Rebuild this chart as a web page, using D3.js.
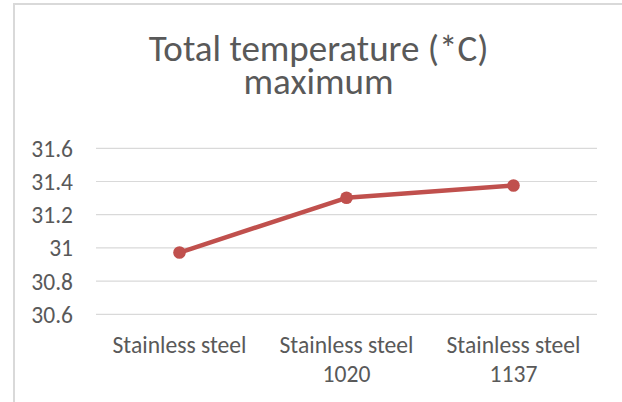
<!DOCTYPE html>
<html>
<head>
<meta charset="utf-8">
<script src="https://cdn.jsdelivr.net/npm/d3@7"></script>
<style>
  body { margin: 0; background: #fff; }
  text { font-family: Carlito, Calibri, "Open Sans", sans-serif; fill: #595959; }
</style>
</head>
<body>
<svg id="chart" width="622" height="402"></svg>
<script>
// data
const categories = [["Stainless steel"], ["Stainless steel", "1020"], ["Stainless steel", "1137"]];
const values = [30.972, 31.302, 31.376];
const yTicks = [30.6, 30.8, 31, 31.2, 31.4, 31.6];
const titleLines = ["Total temperature (*C)", "maximum"];

let width = 622, height = 402;
let margin = { top: 148.3, right: 25, bottom: 87.7, left: 96 };

let svg = d3.select('#chart');

// chart frame (only top and left edges show)
svg.append('path')
  .attr('d', `M14,${height} L14,4 L${width},4`)
  .attr('fill', 'none')
  .attr('stroke', '#d9d9d9')
  .attr('stroke-width', 2);

let x = d3.scaleBand()
  .domain(d3.range(categories.length))
  .range([margin.left, width - margin.right]);

let y = d3.scaleLinear()
  .domain([30.6, 31.6])
  .range([height - margin.bottom, margin.top]);

// gridlines
svg.append('g')
  .selectAll('line')
  .data(yTicks)
  .enter()
  .append('line')
  .attr('x1', margin.left)
  .attr('x2', width - margin.right)
  .attr('y1', d => y(d))
  .attr('y2', d => y(d))
  .attr('stroke', '#d9d9d9')
  .attr('stroke-width', 1.2);

// y tick labels
let yAxis = d3.axisLeft(y).tickValues(yTicks).tickSize(0).tickPadding(0).tickFormat(d3.format(''));
svg.append('g')
  .attr('transform', 'translate(73,0)')
  .call(yAxis)
  .attr('font-family', null)
  .attr('font-size', 23.5)
  .call(g => g.select('.domain').remove())
  .selectAll('text')
  .attr('dy', '0.34em');

// x labels
let xl = svg.append('g')
  .selectAll('text')
  .data(categories)
  .enter()
  .append('text')
  .attr('text-anchor', 'middle')
  .attr('font-size', 23.6)
  .attr('y', 353.3);
xl.selectAll('tspan')
  .data((d, i) => d.map(t => ({ t: t, i: i })))
  .enter()
  .append('tspan')
  .attr('x', d => x(d.i) + x.bandwidth() / 2)
  .attr('dy', (d, j) => j === 0 ? 0 : 28.4)
  .text(d => d.t);

// line + markers
let line = d3.line()
  .x((d, i) => x(i) + x.bandwidth() / 2)
  .y(d => y(d));

svg.append('path')
  .datum(values)
  .attr('d', line)
  .attr('fill', 'none')
  .attr('stroke', '#c0504d')
  .attr('stroke-width', 4.5)
  .attr('stroke-linejoin', 'round');

svg.append('g')
  .selectAll('circle')
  .data(values)
  .enter()
  .append('circle')
  .attr('cx', (d, i) => x(i) + x.bandwidth() / 2)
  .attr('cy', d => y(d))
  .attr('r', 6.3)
  .attr('fill', '#c0504d');

// title (one text, two lines)
svg.append('text')
  .attr('y', 61)
  .attr('text-anchor', 'middle')
  .attr('font-size', 37)
  .attr('font-weight', 300)
  .selectAll('tspan')
  .data(titleLines)
  .enter()
  .append('tspan')
  .attr('x', 318.5)
  .attr('dy', (d, i) => i === 0 ? 0 : 33)
  .text(d => d);
</script>
</body>
</html>
